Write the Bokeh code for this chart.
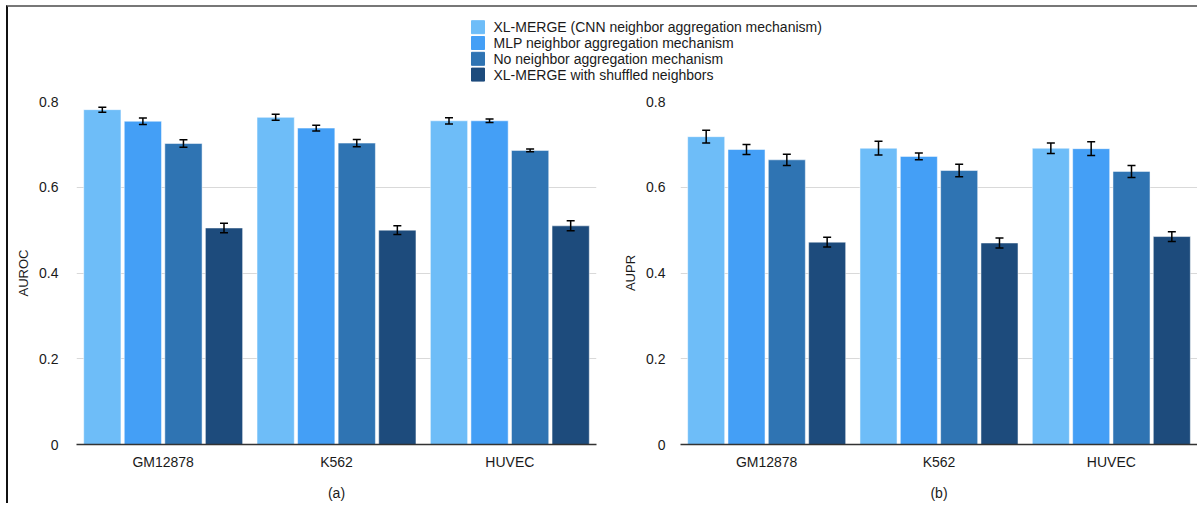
from bokeh.plotting import figure
from bokeh.layouts import column, row
from bokeh.models import (FactorRange, Range1d, Whisker, ColumnDataSource,
                          CustomJSTickFormatter, FixedTicker)
from bokeh.core.properties import value
from bokeh.transform import dodge
from bokeh.embed import file_html
from bokeh.resources import INLINE

cells = ["GM12878", "K562", "HUVEC"]
series_names = [
    "XL-MERGE (CNN neighbor aggregation mechanism)",
    "MLP neighbor aggregation mechanism",
    "No neighbor aggregation mechanism",
    "XL-MERGE with shuffled neighbors",
]
colors = ["#6EBDF8", "#449FF6", "#2F74B3", "#1D4B7C"]

# AUROC (panel a)
auroc_cnn = [0.781, 0.763, 0.755]
auroc_mlp = [0.754, 0.738, 0.755]
auroc_none = [0.702, 0.703, 0.686]
auroc_shuf = [0.505, 0.500, 0.510]
auroc_cnn_err = [0.0058, 0.0070, 0.0073]
auroc_mlp_err = [0.0077, 0.0066, 0.0042]
auroc_none_err = [0.0089, 0.0085, 0.0030]
auroc_shuf_err = [0.0110, 0.0100, 0.0116]

# AUPR (panel b)
aupr_cnn = [0.718, 0.691, 0.691]
aupr_mlp = [0.688, 0.672, 0.690]
aupr_none = [0.664, 0.639, 0.637]
aupr_shuf = [0.472, 0.470, 0.485]
aupr_cnn_err = [0.015, 0.016, 0.012]
aupr_mlp_err = [0.0115, 0.0077, 0.016]
aupr_none_err = [0.013, 0.0146, 0.014]
aupr_shuf_err = [0.0115, 0.0115, 0.0115]

y_ticks = [0, 0.2, 0.4, 0.6, 0.8]
FONT = "Liberation Sans"
TXT = "#1a1a1a"
offsets = [-0.351, -0.117, 0.117, 0.351]
BAR_W = 0.215


def make_panel(vals, errs, ylabel, xlabel, width, mbl, mbr, tick_standoff):
    p = figure(x_range=FactorRange(*cells), y_range=Range1d(0, 0.8),
               width=width, height=416, output_backend="svg", toolbar_location=None,
               min_border_left=mbl, min_border_right=mbr, min_border_top=14,
               min_border_bottom=56)
    p.outline_line_color = None
    p.xgrid.grid_line_color = None
    p.ygrid.grid_line_color = "#D9D9D9"
    p.ygrid.grid_line_width = 1.2
    p.ygrid.ticker = FixedTicker(ticks=y_ticks)

    for i in range(4):
        v = vals[i]
        e = errs[i]
        src = ColumnDataSource(dict(cell=cells, top=v,
                                    upper=[a + b for a, b in zip(v, e)],
                                    lower=[a - b for a, b in zip(v, e)]))
        p.vbar(x=dodge("cell", offsets[i], range=p.x_range), top="top", width=BAR_W,
               source=src, fill_color=colors[i], line_color="white", line_alpha=0.5,
               line_width=1)
        w = Whisker(base=dodge("cell", offsets[i], range=p.x_range), upper="upper",
                    lower="lower", source=src, line_color="black", line_width=1.5,
                    level="overlay")
        w.upper_head.size = 8
        w.lower_head.size = 8
        w.upper_head.line_width = 1.5
        w.lower_head.line_width = 1.5
        p.add_layout(w)

    xa = p.xaxis[0]
    xa.axis_line_color = "#333333"
    xa.axis_line_width = 1.5
    xa.major_tick_line_color = None
    xa.minor_tick_line_color = None
    xa.major_label_text_font = FONT
    xa.major_label_text_font_size = "14px"
    xa.major_label_text_color = TXT
    xa.major_label_standoff = 3
    xa.axis_label = xlabel
    xa.axis_label_text_font = FONT
    xa.axis_label_text_font_style = "normal"
    xa.axis_label_text_font_size = "14px"
    xa.axis_label_text_color = TXT
    xa.axis_label_standoff = 12

    ya = p.yaxis[0]
    ya.ticker = FixedTicker(ticks=y_ticks)
    ya.formatter = CustomJSTickFormatter(code="return tick == 0 ? '0' : tick.toFixed(1);")
    ya.axis_line_color = None
    ya.major_tick_line_color = None
    ya.minor_tick_line_color = None
    ya.major_label_text_font = FONT
    ya.major_label_text_font_size = "14px"
    ya.major_label_text_color = TXT
    ya.major_label_standoff = tick_standoff
    ya.axis_label = ylabel
    ya.axis_label_text_font = FONT
    ya.axis_label_text_font_style = "normal"
    ya.axis_label_text_font_size = "13px"
    ya.axis_label_text_color = TXT
    ya.axis_label_standoff = 5
    return p


p1 = make_panel([auroc_cnn, auroc_mlp, auroc_none, auroc_shuf],
                [auroc_cnn_err, auroc_mlp_err, auroc_none_err, auroc_shuf_err],
                "AUROC", "(a)", 592, 68, 4, 12)
p2 = make_panel([aupr_cnn, aupr_mlp, aupr_none, aupr_shuf],
                [aupr_cnn_err, aupr_mlp_err, aupr_none_err, aupr_shuf_err],
                "AUPR", "(b)", 597, 80, 0, 9)

# Legend panel drawn in pixel coordinates
LW, LH = 1189, 80
lf = figure(width=LW, height=LH, x_range=Range1d(0, LW), y_range=Range1d(0, LH),
            min_border=0, toolbar_location=None, output_backend="svg",
            outline_line_color=None, x_axis_location=None, y_axis_location=None)
for g in lf.grid:
    g.visible = False
row_y = [LH - 19.7 - 15.8 * i for i in range(len(series_names))]
lf.rect(x=[469.5] * len(series_names), y=row_y, width=13, height=13,
        fill_color=colors, line_color=colors)
lf.text(x=[485] * len(series_names), y=row_y, text=series_names,
        text_font=value(FONT), text_font_size="14px", text_color=TXT,
        text_baseline="middle", text_align="left")

layout = column(lf, row(p1, p2),
                styles={"border-left": "2px solid #111111", "border-top": "2px solid #777777",
                        "margin-left": "6px", "margin-top": "5px"})

open("out.html", "w").write(file_html(layout, INLINE))
